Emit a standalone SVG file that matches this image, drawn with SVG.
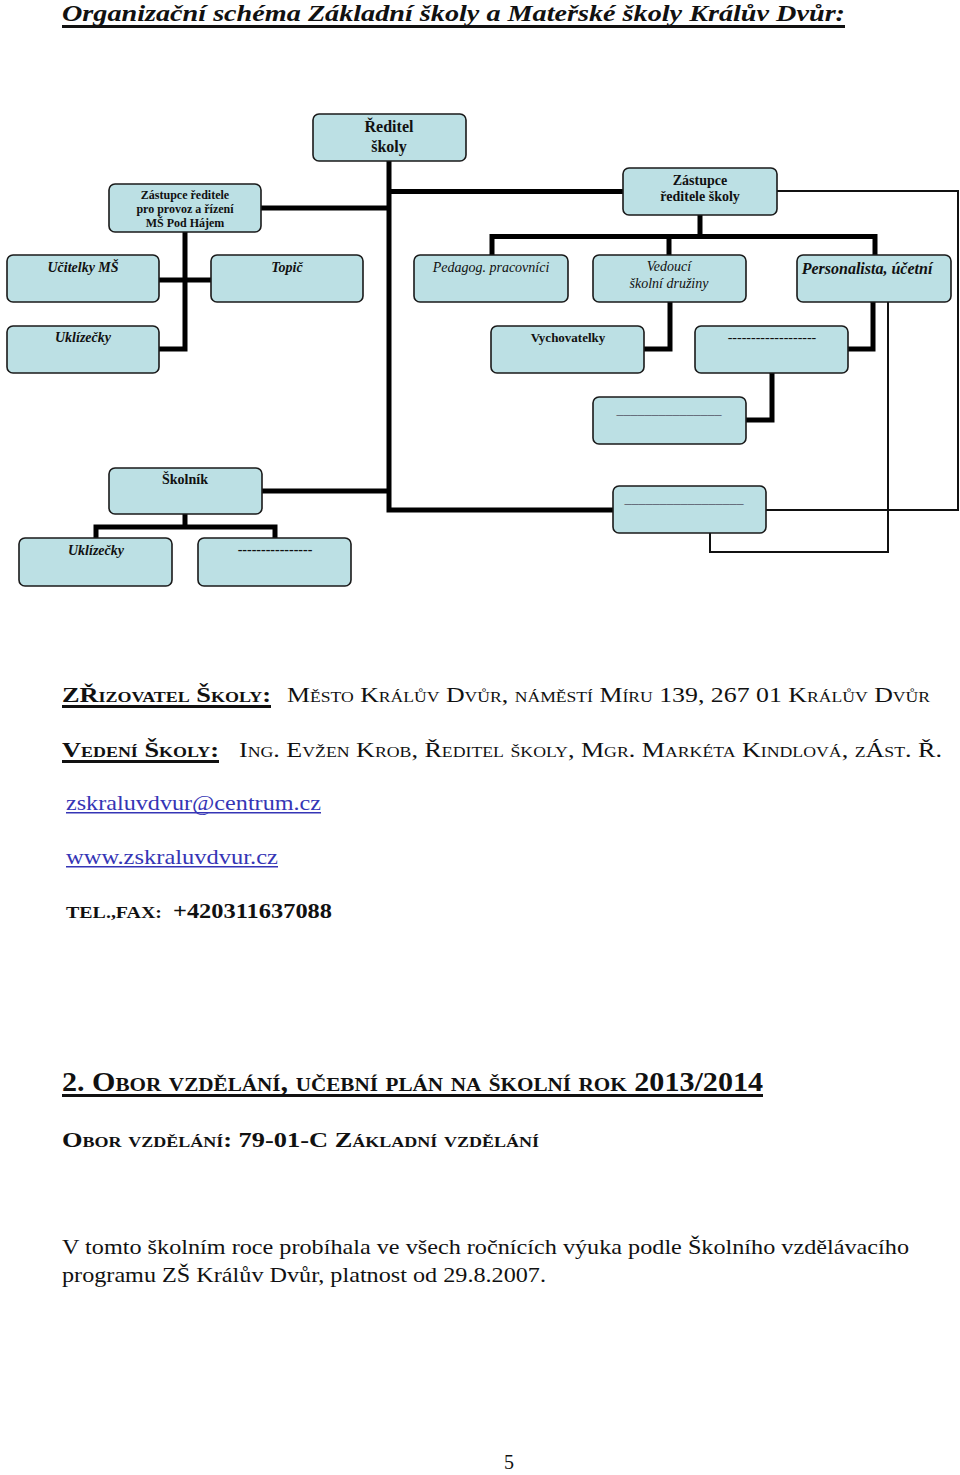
<svg xmlns="http://www.w3.org/2000/svg" width="960" height="1475" viewBox="0 0 960 1475">
<style>
.box{fill:#bce0e4;stroke:#1a1a1a;stroke-width:1.6}
.t{font-family:"Liberation Serif","Times New Roman",serif;fill:#111;text-anchor:middle}
.b{font-weight:bold}
.i{font-style:italic}
.thick{fill:none;stroke:#000;stroke-width:5;stroke-linejoin:miter}
.thin{fill:none;stroke:#111;stroke-width:2}
.p{font-family:"Liberation Serif","Times New Roman",serif;fill:#111}
.sc{font-variant:small-caps}
.link{fill:#3535b5}
.blank{fill:#556}
</style>
<rect width="960" height="1475" fill="#fff"/>

<!-- title -->
<text class="p b i" x="62" y="21" font-size="23" textLength="783" lengthAdjust="spacingAndGlyphs">Organizační schéma Základní školy a Mateřské školy Králův Dvůr:</text>
<rect x="62" y="25" width="783" height="3" fill="#111"/>

<g id="connectors">
<path class="thick" d="M389,161 V510 H613"/>
<path class="thick" d="M389,191.5 H623"/>
<path class="thick" d="M261,208 H389"/>
<path class="thick" d="M185,232 V349 H159"/>
<path class="thick" d="M159,280 H211"/>
<path class="thick" d="M700,215 V236.5"/>
<path class="thick" d="M492,255 V236.5 H875 V255"/>
<path class="thick" d="M669,236.5 V255"/>
<path class="thick" d="M873,302 V349 H848"/>
<path class="thick" d="M670,302 V349 H644"/>
<path class="thick" d="M772,373 V420 H746"/>
<path class="thick" d="M262,491 H389"/>
<path class="thick" d="M185,514 V527"/>
<path class="thick" d="M96,538 V527 H275 V538"/>
<path class="thin" d="M777,191 H958 V510 H766"/>
<path class="thin" d="M888,302 V552 H710 V533"/>
</g>

<g id="reditel">
<rect class="box" x="313" y="114" width="153" height="47" rx="6"/>
<text class="t b" x="389" y="132" font-size="16">Ředitel</text>
<text class="t b" x="389" y="152" font-size="16">školy</text>
</g>
<g id="zastupce-ms">
<rect class="box" x="109" y="184" width="152" height="48" rx="6"/>
<text class="t b" x="185" y="199" font-size="12">Zástupce ředitele</text>
<text class="t b" x="185" y="213" font-size="12">pro provoz a řízení</text>
<text class="t b" x="185" y="227" font-size="12">MŠ Pod Hájem</text>
</g>
<g id="zastupce-skoly">
<rect class="box" x="623" y="168" width="154" height="47" rx="6"/>
<text class="t b" x="700" y="185" font-size="14">Zástupce</text>
<text class="t b" x="700" y="201" font-size="14">ředitele školy</text>
</g>
<g id="ucitelky-ms">
<rect class="box" x="7" y="255" width="152" height="47" rx="6"/>
<text class="t b i" x="83" y="272" font-size="14">Učitelky MŠ</text>
</g>
<g id="topic">
<rect class="box" x="211" y="255" width="152" height="47" rx="6"/>
<text class="t b i" x="287" y="272" font-size="14">Topič</text>
</g>
<g id="pedagog">
<rect class="box" x="414" y="255" width="154" height="47" rx="6"/>
<text class="t i" x="491" y="272" font-size="14">Pedagog. pracovníci</text>
</g>
<g id="vedouci-druziny">
<rect class="box" x="593" y="255" width="153" height="47" rx="6"/>
<text class="t i" x="669" y="271" font-size="14">Vedoucí</text>
<text class="t i" x="669" y="288" font-size="14">školní družiny</text>
</g>
<g id="personalista">
<rect class="box" x="797" y="255" width="154" height="47" rx="6"/>
<text class="t b i" x="867" y="274" font-size="16">Personalista, účetní</text>
</g>
<g id="uklizecky-ms">
<rect class="box" x="7" y="326" width="152" height="47" rx="6"/>
<text class="t b i" x="83" y="342" font-size="14">Uklízečky</text>
</g>
<g id="vychovatelky">
<rect class="box" x="491" y="326" width="153" height="47" rx="6"/>
<text class="t b" x="568" y="342" font-size="13">Vychovatelky</text>
</g>
<g id="pozice-1">
<rect class="box" x="695" y="326" width="153" height="47" rx="6"/>
<text class="t" x="772" y="342" font-size="14">-------------------</text>
</g>
<g id="pozice-2">
<rect class="box" x="593" y="397" width="153" height="47" rx="6"/>
<text class="t blank" x="669" y="414" font-size="14">_______________</text>
</g>
<g id="skolnik">
<rect class="box" x="109" y="468" width="153" height="46" rx="6"/>
<text class="t b" x="185" y="484" font-size="14">Školník</text>
</g>
<g id="pozice-3">
<rect class="box" x="613" y="486" width="153" height="47" rx="6"/>
<text class="t blank" x="684" y="503" font-size="14">_________________</text>
</g>
<g id="uklizecky-zs">
<rect class="box" x="19" y="538" width="153" height="48" rx="6"/>
<text class="t b i" x="96" y="555" font-size="14">Uklízečky</text>
</g>
<g id="pozice-4">
<rect class="box" x="198" y="538" width="153" height="48" rx="6"/>
<text class="t b" x="275" y="554" font-size="14">----------------</text>
</g>

<!-- text below -->
<text class="p b sc" x="62" y="702" font-size="22" textLength="209" lengthAdjust="spacingAndGlyphs">ZŘizovatel Školy:</text>
<rect x="62" y="705" width="209" height="3" fill="#111"/>
<text class="p sc" x="287" y="702" font-size="22" textLength="643" lengthAdjust="spacingAndGlyphs">Město Králův Dvůr, náměstí Míru 139, 267 01 Králův Dvůr</text>

<text class="p b sc" x="62" y="757" font-size="22" textLength="157" lengthAdjust="spacingAndGlyphs">Vedení Školy:</text>
<rect x="62" y="760" width="157" height="3" fill="#111"/>
<text class="p sc" x="239" y="757" font-size="22" textLength="703" lengthAdjust="spacingAndGlyphs">Ing. Evžen Krob, Ředitel školy, Mgr. Markéta Kindlová, zÁst. Ř.</text>

<text class="p link" x="66" y="810" font-size="21" textLength="255" lengthAdjust="spacingAndGlyphs">zskraluvdvur@centrum.cz</text>
<rect x="66" y="812" width="255" height="1.5" fill="#3535b5"/>
<text class="p link" x="66" y="864" font-size="21" textLength="212" lengthAdjust="spacingAndGlyphs">www.zskraluvdvur.cz</text>
<rect x="66" y="866" width="212" height="1.5" fill="#3535b5"/>

<text class="p b" x="66" y="918" font-size="17" textLength="96" lengthAdjust="spacingAndGlyphs">TEL.,FAX:</text>
<text class="p b" x="173" y="918" font-size="22" textLength="159" lengthAdjust="spacingAndGlyphs">+420311637088</text>

<text class="p b sc" x="62" y="1091" font-size="27" textLength="701" lengthAdjust="spacingAndGlyphs">2. Obor vzdělání, učební plán  na školní rok 2013/2014</text>
<rect x="62" y="1094" width="701" height="3" fill="#111"/>

<text class="p b sc" x="62" y="1147" font-size="22" textLength="477" lengthAdjust="spacingAndGlyphs">Obor vzdělání: 79-01-C Základní vzdělání</text>

<text class="p" x="62" y="1254" font-size="22" textLength="847" lengthAdjust="spacingAndGlyphs">V tomto školním roce probíhala ve všech ročnících výuka podle Školního vzdělávacího</text>
<text class="p" x="62" y="1282" font-size="22" textLength="484" lengthAdjust="spacingAndGlyphs">programu ZŠ Králův Dvůr, platnost od 29.8.2007.</text>

<text class="t" x="509" y="1469" font-size="20">5</text>
</svg>
